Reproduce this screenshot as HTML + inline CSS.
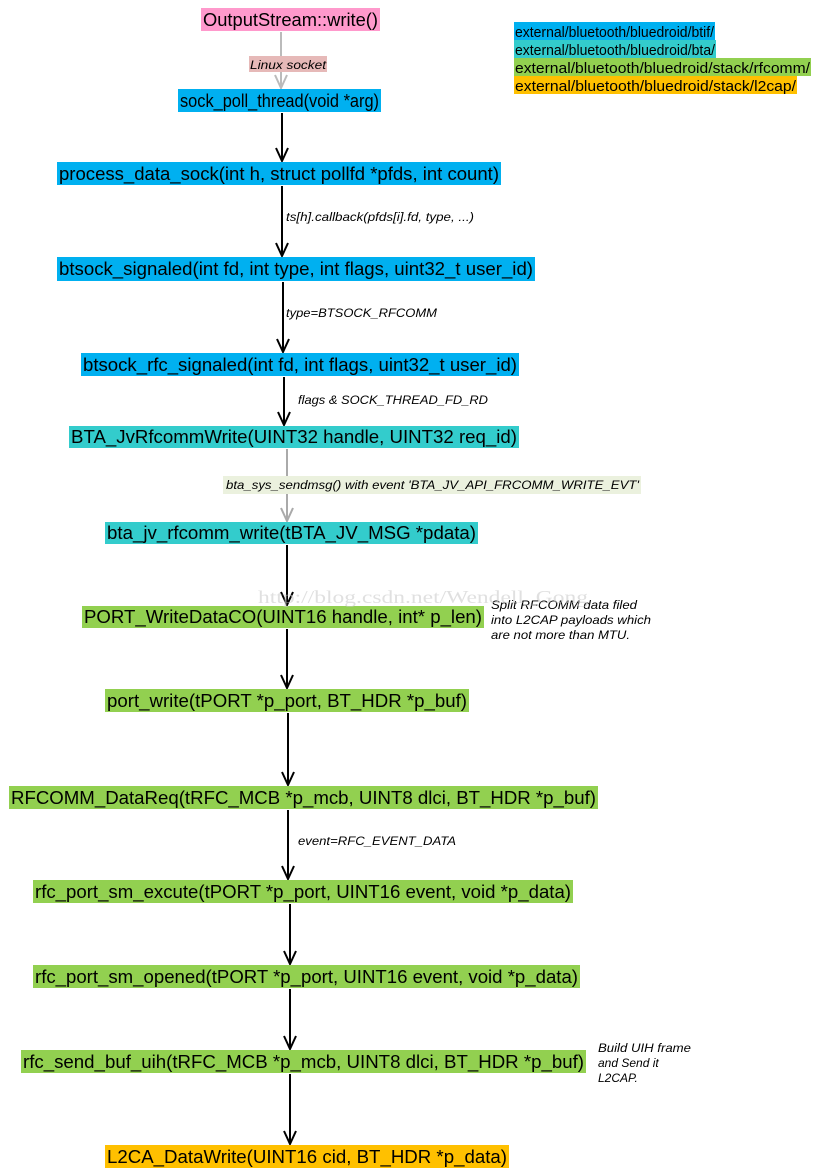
<!DOCTYPE html>
<html><head><meta charset="utf-8"><style>
html,body{margin:0;padding:0;background:#fff;}
svg{display:block;}
.b{font-family:"Liberation Sans",sans-serif;font-size:18px;fill:#000;}
.l{font-family:"Liberation Sans",sans-serif;font-size:15px;fill:#000;}
.i{font-family:"Liberation Sans",sans-serif;font-size:12px;font-style:italic;fill:#000;}
</style></head><body>
<svg width="826" height="1176" viewBox="0 0 826 1176" xmlns="http://www.w3.org/2000/svg">
<!-- arrows -->
<g stroke-width="2" fill="none">
<path d="M281,32 V88 M275,75 L281,88 L287,75" stroke="#bbb"/>
<path d="M282,113 V161 M276,148 L282,161 L288,148" stroke="#000"/>
<path d="M282,186 V256 M276,243 L282,256 L288,243" stroke="#000"/>
<path d="M283,282 V352 M277,339 L283,352 L289,339" stroke="#000"/>
<path d="M284,377 V425 M278,412 L284,425 L290,412" stroke="#000"/>
<path d="M287,449 V521 M281,508 L287,521 L293,508" stroke="#aaa"/>
<path d="M287,545 V605 M281,592 L287,605 L293,592" stroke="#000"/>
<path d="M287,629 V688 M281,675 L287,688 L293,675" stroke="#000"/>
<path d="M288,713 V785 M282,772 L288,785 L294,772" stroke="#000"/>
<path d="M288,810 V879 M282,866 L288,879 L294,866" stroke="#000"/>
<path d="M290,904 V964 M284,951 L290,964 L296,951" stroke="#000"/>
<path d="M290,989 V1049 M284,1036 L290,1049 L296,1036" stroke="#000"/>
<path d="M290,1074 V1144 M284,1131 L290,1144 L296,1131" stroke="#000"/>
</g>
<!-- boxes -->
<rect x="201" y="8" width="179" height="23" fill="#ff99cc"/>
<text class="b" x="203" y="26" textLength="175" lengthAdjust="spacingAndGlyphs">OutputStream::write()</text>
<rect x="178" y="89" width="203" height="23" fill="#00b0f0"/>
<text class="b" x="180" y="107" textLength="199" lengthAdjust="spacingAndGlyphs">sock_poll_thread(void *arg)</text>
<rect x="57" y="162" width="444" height="23" fill="#00b0f0"/>
<text class="b" x="59" y="180" textLength="440" lengthAdjust="spacingAndGlyphs">process_data_sock(int h, struct pollfd *pfds, int count)</text>
<rect x="57" y="257" width="478" height="24" fill="#00b0f0"/>
<text class="b" x="59" y="275" textLength="474" lengthAdjust="spacingAndGlyphs">btsock_signaled(int fd, int type, int flags, uint32_t user_id)</text>
<rect x="81" y="353" width="438" height="23" fill="#00b0f0"/>
<text class="b" x="83" y="371" textLength="434" lengthAdjust="spacingAndGlyphs">btsock_rfc_signaled(int fd, int flags, uint32_t user_id)</text>
<rect x="69" y="426" width="450" height="22" fill="#33cccc"/>
<text class="b" x="71" y="443" textLength="446" lengthAdjust="spacingAndGlyphs">BTA_JvRfcommWrite(UINT32 handle, UINT32 req_id)</text>
<rect x="105" y="522" width="373" height="22" fill="#33cccc"/>
<text class="b" x="107" y="539" textLength="369" lengthAdjust="spacingAndGlyphs">bta_jv_rfcomm_write(tBTA_JV_MSG *pdata)</text>
<rect x="82" y="606" width="402" height="22" fill="#92d050"/>
<text class="b" x="84" y="623" textLength="398" lengthAdjust="spacingAndGlyphs">PORT_WriteDataCO(UINT16 handle, int* p_len)</text>
<rect x="105" y="689" width="364" height="23" fill="#92d050"/>
<text class="b" x="107" y="707" textLength="360" lengthAdjust="spacingAndGlyphs">port_write(tPORT *p_port, BT_HDR *p_buf)</text>
<rect x="9" y="786" width="589" height="23" fill="#92d050"/>
<text class="b" x="11" y="804" textLength="585" lengthAdjust="spacingAndGlyphs">RFCOMM_DataReq(tRFC_MCB *p_mcb, UINT8 dlci, BT_HDR *p_buf)</text>
<rect x="33" y="880" width="540" height="23" fill="#92d050"/>
<text class="b" x="35" y="898" textLength="536" lengthAdjust="spacingAndGlyphs">rfc_port_sm_excute(tPORT *p_port, UINT16 event, void *p_data)</text>
<rect x="33" y="965" width="547" height="23" fill="#92d050"/>
<text class="b" x="35" y="983" textLength="543" lengthAdjust="spacingAndGlyphs">rfc_port_sm_opened(tPORT *p_port, UINT16 event, void *p_data)</text>
<rect x="21" y="1050" width="565" height="23" fill="#92d050"/>
<text class="b" x="23" y="1068" textLength="561" lengthAdjust="spacingAndGlyphs">rfc_send_buf_uih(tRFC_MCB *p_mcb, UINT8 dlci, BT_HDR *p_buf)</text>
<rect x="105" y="1145" width="404" height="23" fill="#ffc000"/>
<text class="b" x="107" y="1163" textLength="400" lengthAdjust="spacingAndGlyphs">L2CA_DataWrite(UINT16 cid, BT_HDR *p_data)</text>
<!-- legend -->
<rect x="514" y="22" width="201" height="18" fill="#00b0f0"/>
<text class="l" x="515" y="37" textLength="199" lengthAdjust="spacingAndGlyphs">external/bluetooth/bluedroid/btif/</text>
<rect x="514" y="40" width="202" height="18" fill="#33cccc"/>
<text class="l" x="515" y="55" textLength="200" lengthAdjust="spacingAndGlyphs">external/bluetooth/bluedroid/bta/</text>
<rect x="514" y="58" width="297" height="18" fill="#92d050"/>
<text class="l" x="515" y="73" textLength="295" lengthAdjust="spacingAndGlyphs">external/bluetooth/bluedroid/stack/rfcomm/</text>
<rect x="514" y="76" width="283" height="18" fill="#ffc000"/>
<text class="l" x="515" y="91" textLength="281" lengthAdjust="spacingAndGlyphs">external/bluetooth/bluedroid/stack/l2cap/</text>
<!-- edge labels -->
<rect x="249" y="56" width="78" height="16" fill="#e6b9b8"/>
<text class="i" x="250" y="69" textLength="76" lengthAdjust="spacingAndGlyphs">Linux  socket</text>
<text class="i" x="286" y="221" textLength="188" lengthAdjust="spacingAndGlyphs">ts[h].callback(pfds[i].fd, type, ...)</text>
<text class="i" x="286" y="317" textLength="151" lengthAdjust="spacingAndGlyphs">type=BTSOCK_RFCOMM</text>
<text class="i" x="298" y="404" textLength="190" lengthAdjust="spacingAndGlyphs">flags &amp; SOCK_THREAD_FD_RD</text>
<rect x="223" y="476" width="418" height="18" fill="#ebf1de"/>
<text class="i" x="226" y="489" textLength="413" lengthAdjust="spacingAndGlyphs">bta_sys_sendmsg()  with event  'BTA_JV_API_FRCOMM_WRITE_EVT'</text>
<text class="i" x="298" y="845" textLength="158" lengthAdjust="spacingAndGlyphs">event=RFC_EVENT_DATA</text>
<text class="i" x="491" y="609" textLength="146" lengthAdjust="spacingAndGlyphs">Split RFCOMM data filed</text>
<text class="i" x="491" y="624" textLength="160" lengthAdjust="spacingAndGlyphs">into L2CAP payloads which</text>
<text class="i" x="491" y="639" textLength="139" lengthAdjust="spacingAndGlyphs">are not more than MTU.</text>
<text class="i" x="598" y="1052" textLength="93" lengthAdjust="spacingAndGlyphs">Build UIH frame</text>
<text class="i" x="598" y="1067">and Send it</text>
<text class="i" x="598" y="1082">L2CAP.</text>
<text x="258" y="603" font-family="Liberation Serif,serif" font-size="18" fill="#ccc" opacity="0.6" textLength="330" lengthAdjust="spacingAndGlyphs">http://blog.csdn.net/Wendell_Gong</text>
</svg>
</body></html>
